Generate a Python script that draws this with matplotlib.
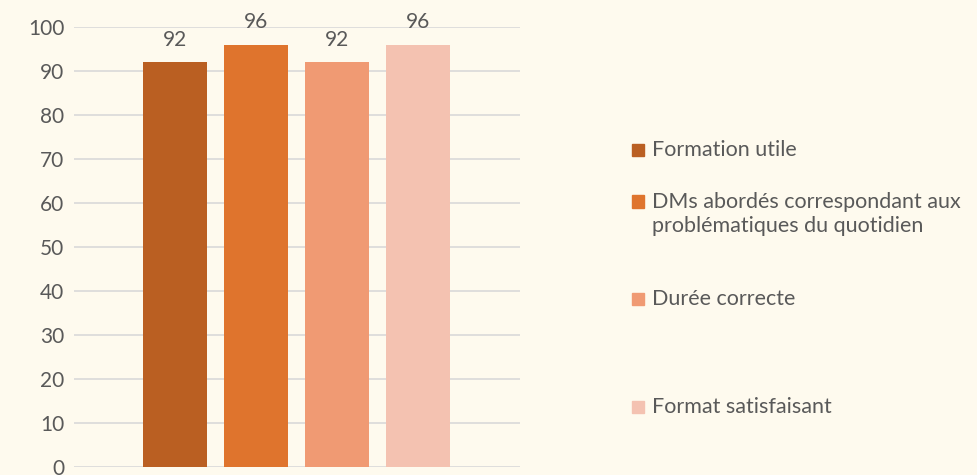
import matplotlib.pyplot as plt
from matplotlib.patches import Rectangle

labels = ["Formation utile",
          "DMs abordés correspondant aux\nproblématiques du quotidien",
          "Durée correcte",
          "Format satisfaisant"]
values = [92, 96, 92, 96]
colors = ["#BA5F22", "#DF742D", "#F09A73", "#F4C2B1"]
legend_y = [150, 214, 299, 407]  # pixel centres of legend entries

plt.rcParams['font.family'] = ['Lato', 'DejaVu Sans']
bg = "#FEFAEE"
txt = "#595959"

W, H = 978, 475
fig = plt.figure(figsize=(W / 100, H / 100), dpi=100, facecolor=bg)
ax = fig.add_axes([74 / W, 1 - 467 / H, (520 - 74) / W, (467 - 27) / H], facecolor=bg)

xs = list(range(len(values)))
ax.bar(xs, values, width=0.79, color=colors, zorder=3)
for x, v in zip(xs, values):
    ax.annotate(str(v), (x, v), xytext=(0, 9), textcoords="offset points",
                ha="center", va="bottom", fontsize=15, color=txt)

ax.set_xlim(-1.25, 4.26)
ax.set_ylim(0, 100)
ax.set_yticks(range(0, 101, 10))
ax.set_xticks([])
ax.grid(axis="y", color="#D9D9D9", linewidth=1.2, zorder=0)
for s in ax.spines.values():
    s.set_visible(False)
ax.tick_params(axis="y", length=0, pad=7, labelsize=15, labelcolor=txt)

for lab, c, yp in zip(labels, colors, legend_y):
    nlines = lab.count("\n") + 1
    top = yp - (nlines - 1) * 12.5
    fig.patches.append(Rectangle((632 / W, 1 - (top + 6) / H), 12 / W, 12 / H,
                                 transform=fig.transFigure, color=c))
    fig.text(652 / W, 1 - yp / H, lab, ha="left", va="center", fontsize=15.5,
             color=txt, linespacing=1.2)

fig.savefig("out.png", dpi=100, facecolor=bg)
